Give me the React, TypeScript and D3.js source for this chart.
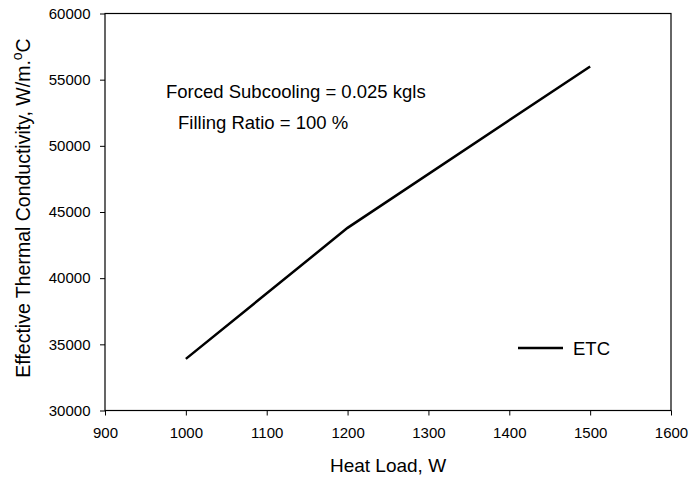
import { useEffect, useRef } from "react";
import * as d3 from "d3";

const heatLoad = [1000, 1200, 1500];
const etcValues = [33900, 43800, 56000];
const xTicks = [900, 1000, 1100, 1200, 1300, 1400, 1500, 1600];
const yTicks = [30000, 35000, 40000, 45000, 50000, 55000, 60000];

export default function App() {
  const ref = useRef<SVGSVGElement>(null);

  useEffect(() => {
    const svg = d3.select(ref.current);
    svg.selectAll("*").remove();

    const width = 689;
    const height = 478;
    const margin = { top: 13.5, right: 18, bottom: 67.5, left: 105 };
    const font = "Liberation Sans, Arial, sans-serif";

    const x = d3
      .scaleLinear()
      .domain([900, 1600])
      .range([margin.left, width - margin.right]);
    const y = d3
      .scaleLinear()
      .domain([30000, 60000])
      .range([height - margin.bottom, margin.top]);

    const xAxis = svg
      .append("g")
      .attr("transform", `translate(0,${height - margin.bottom})`)
      .call(d3.axisBottom(x).tickValues(xTicks).tickSize(5).tickSizeOuter(0).tickPadding(11.5).tickFormat(d3.format("d")));
    const yAxis = svg
      .append("g")
      .attr("transform", `translate(${margin.left},0)`)
      .call(d3.axisLeft(y).tickValues(yTicks).tickSize(5).tickSizeOuter(0).tickPadding(9.5).tickFormat(d3.format("d")));

    [xAxis, yAxis].forEach((g) => {
      g.selectAll("text").attr("font-family", font).attr("font-size", 15).attr("fill", "#000");
      g.selectAll("line").attr("stroke", "#000");
      g.select(".domain").remove();
    });

    // plot frame
    svg
      .append("rect")
      .attr("x", x(900))
      .attr("y", y(60000))
      .attr("width", x(1600) - x(900))
      .attr("height", y(30000) - y(60000))
      .attr("fill", "none")
      .attr("stroke", "#000")
      .attr("stroke-width", 1.2);

    const pts = heatLoad.map((h, i) => [h, etcValues[i]] as [number, number]);
    const line = d3
      .line<[number, number]>()
      .x((d) => x(d[0]))
      .y((d) => y(d[1]));

    svg
      .append("path")
      .datum(pts)
      .attr("fill", "none")
      .attr("stroke", "#000")
      .attr("stroke-width", 2.5)
      .attr("d", line);

    // annotations
    svg
      .append("text")
      .attr("x", 166)
      .attr("y", 98)
      .attr("font-family", font)
      .attr("font-size", 18.5)
      .text("Forced Subcooling = 0.025 kgls");
    svg
      .append("text")
      .attr("x", 178)
      .attr("y", 128.5)
      .attr("font-family", font)
      .attr("font-size", 18.5)
      .text("Filling Ratio = 100 %");

    // legend
    svg
      .append("line")
      .attr("x1", 518)
      .attr("x2", 563)
      .attr("y1", 348)
      .attr("y2", 348)
      .attr("stroke", "#000")
      .attr("stroke-width", 2.5);
    svg
      .append("text")
      .attr("x", 573)
      .attr("y", 355)
      .attr("font-family", font)
      .attr("font-size", 18.5)
      .text("ETC");

    // axis titles
    svg
      .append("text")
      .attr("x", (x(900) + x(1600)) / 2)
      .attr("y", 472)
      .attr("text-anchor", "middle")
      .attr("font-family", font)
      .attr("font-size", 19)
      .text("Heat Load, W");

    const yTitle = svg
      .append("text")
      .attr("transform", `translate(30,208) rotate(-90)`)
      .attr("text-anchor", "middle")
      .attr("font-family", font)
      .attr("font-size", 19.5);
    yTitle.append("tspan").text("Effective Thermal Conductivity, W/m.");
    yTitle.append("tspan").attr("font-size", 14).attr("dy", -8).text("o");
    yTitle.append("tspan").attr("dy", 8).text("C");
  }, []);

  return (
    <div style={{ position: "absolute", left: 0, top: 0 }}>
      <svg ref={ref} width={689} height={478} style={{ display: "block" }}></svg>
    </div>
  );
}
